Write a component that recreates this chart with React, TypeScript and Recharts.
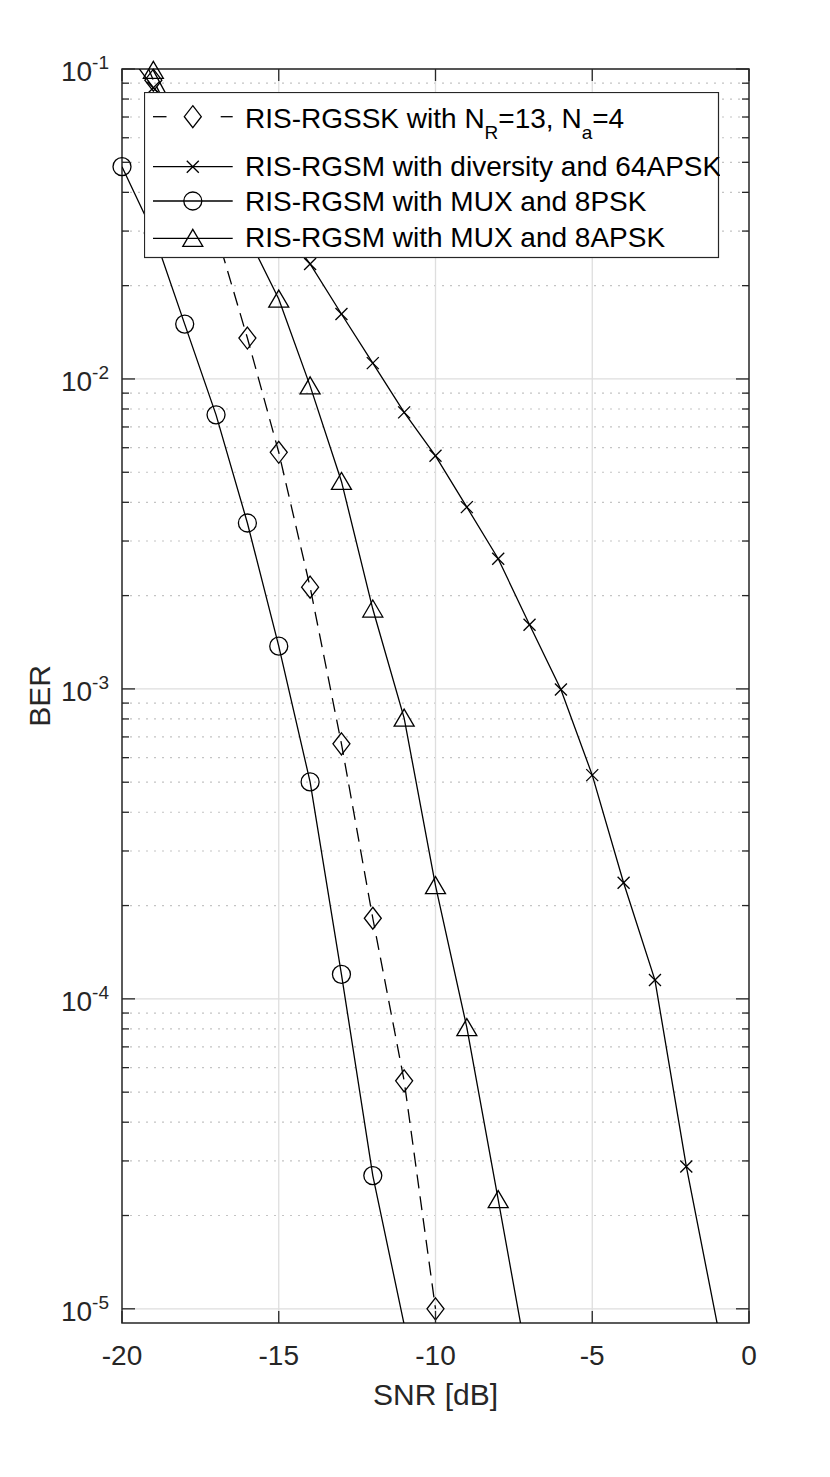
import React from 'react';
import { LineChart, Line, XAxis, YAxis, CartesianGrid, ReferenceDot, ReferenceArea, Legend } from 'recharts';

// ---------- data ----------
const snr = [-20, -19, -18, -17, -16, -15, -14, -13, -12, -11, -10, -9, -8, -7, -6, -5, -4, -3, -2, -1];

const rgssk = [0.16, 0.092, 0.058, 0.0298, 0.01355, 0.0058, 0.00213, 0.000665, 0.000182, 5.44e-5, 1.0e-5,
  null, null, null, null, null, null, null, null, null];
const div64apsk = [0.119, 0.087, 0.0684, 0.0537, 0.0417, 0.032, 0.0235, 0.0162, 0.01125, 0.0078, 0.00565,
  0.00386, 0.00263, 0.00161, 0.000996, 0.000527, 0.000237, 0.000115, 2.88e-5, 8.8e-6];
const mux8psk = [0.0484, 0.0296, 0.01503, 0.00766, 0.00343, 0.001374, 0.000501, 0.00012, 2.69e-5, 8.9e-6,
  null, null, null, null, null, null, null, null, null, null];
const mux8apsk = [0.16, 0.099, 0.064, 0.043, 0.029, 0.0181, 0.0095, 0.00467, 0.00181, 0.000805, 0.000232,
  8.08e-5, 2.25e-5, 6.2e-6, null, null, null, null, null, null];

const xTicks = [-20, -15, -10, -5, 0];
const yMajor = [1e-5, 1e-4, 1e-3, 1e-2, 1e-1];
const yMinorMult = [2, 3, 4, 5, 6, 7, 8, 9];
const yMinor = [1e-5, 1e-4, 1e-3, 1e-2].flatMap((d) => yMinorMult.map((m) => m * d));
const yDomain = [9e-6, 0.1];
const xDomain = [-20, 0];

const legendLabels = [
  'RIS-RGSSK with N_R=13, N_a=4',
  'RIS-RGSM with diversity and 64APSK',
  'RIS-RGSM with MUX and 8PSK',
  'RIS-RGSM with MUX and 8APSK',
];

const data = snr.map((s, i) => ({
  snr: s,
  rgssk: rgssk[i],
  div64apsk: div64apsk[i],
  mux8psk: mux8psk[i],
  mux8apsk: mux8apsk[i],
}));

// ---------- layout / style ----------
const W = 830;
const H = 1477;
const PL = 122;
const PR = 749;
const PT = 69;
const PB = 1323;
const AX = '#262626';
const FONT = "'Liberation Sans', Arial, Helvetica, sans-serif";

type Kind = 'diamond' | 'x' | 'circle' | 'triangle';

const Marker = ({ kind, cx, cy }: { kind: Kind; cx: number; cy: number }) => {
  if (cx == null || cy == null || isNaN(cx) || isNaN(cy)) return <g />;
  const st = { fill: 'none', stroke: '#000', strokeWidth: 1.3 };
  if (kind === 'diamond') {
    return <polygon points={`${cx},${cy - 11} ${cx + 8.5},${cy} ${cx},${cy + 11} ${cx - 8.5},${cy}`} {...st} />;
  }
  if (kind === 'circle') {
    return <circle cx={cx} cy={cy} r={9} {...st} />;
  }
  if (kind === 'triangle') {
    return <polygon points={`${cx},${cy - 9} ${cx + 10},${cy + 8} ${cx - 10},${cy + 8}`} {...st} />;
  }
  return (
    <g {...st}>
      <line x1={cx - 6} y1={cy - 6} x2={cx + 6} y2={cy + 6} />
      <line x1={cx - 6} y1={cy + 6} x2={cx + 6} y2={cy - 6} />
    </g>
  );
};

const series: { key: string; values: (number | null)[]; kind: Kind; dash?: string }[] = [
  { key: 'rgssk', values: rgssk, kind: 'diamond', dash: '14 8' },
  { key: 'div64apsk', values: div64apsk, kind: 'x' },
  { key: 'mux8psk', values: mux8psk, kind: 'circle' },
  { key: 'mux8apsk', values: mux8apsk, kind: 'triangle' },
];

const YTick = (props: any) => {
  const { y, payload } = props;
  const v = payload.value;
  const major = yMajor.includes(v);
  const len = major ? 13 : 7;
  const exp = Math.round(Math.log10(v));
  return (
    <g>
      <line x1={PL} x2={PL + len} y1={y} y2={y} stroke={AX} strokeWidth={1.3} />
      <line x1={PR - len} x2={PR} y1={y} y2={y} stroke={AX} strokeWidth={1.3} />
      {major && (
        <text x={109} y={y + 12} textAnchor="end" fontSize={28} fill={AX} fontFamily={FONT}>
          10
          <tspan dy={-12} fontSize={19}>{String(exp)}</tspan>
        </text>
      )}
    </g>
  );
};

const XTick = (props: any) => {
  const { x, payload } = props;
  return (
    <g>
      <line x1={x} x2={x} y1={PB} y2={PB - 12} stroke={AX} strokeWidth={1.3} />
      <line x1={x} x2={x} y1={PT} y2={PT + 12} stroke={AX} strokeWidth={1.3} />
      <text x={x} y={1365} textAnchor="middle" fontSize={28} fill={AX} fontFamily={FONT}>
        {String(payload.value)}
      </text>
    </g>
  );
};

const LegendBox = () => {
  const rowsLine = [24.7, 74.7, 109, 146.3];
  const rowsBase = [35.7, 83.7, 118.7, 154.7];
  const x0 = 9;
  const x1 = 88.7;
  const mx = 48.8;
  const tx = 101;
  return (
    <svg width={576} height={167} style={{ display: 'block' }}>
      <rect x={0.5} y={0.5} width={574} height={165} fill="#fff" stroke={AX} strokeWidth={1.2} />
      {series.map((s, i) => (
        <g key={s.key}>
          {s.dash ? (
            <g stroke="#000" strokeWidth={1.3}>
              <line x1={x0} x2={x0 + 13.5} y1={rowsLine[i]} y2={rowsLine[i]} />
              <line x1={x1 - 12} x2={x1} y1={rowsLine[i]} y2={rowsLine[i]} />
            </g>
          ) : (
            <line x1={x0} x2={x1} y1={rowsLine[i]} y2={rowsLine[i]} stroke="#000" strokeWidth={1.3} />
          )}
          <Marker kind={s.kind} cx={mx} cy={rowsLine[i]} />
          {i === 0 ? (
            <text x={tx} y={rowsBase[i]} fontSize={28} fill="#000" fontFamily={FONT}>
              RIS-RGSSK with N<tspan dy={11} fontSize={19}>R</tspan>
              <tspan dy={-11}>=13, N</tspan>
              <tspan dy={11} fontSize={19}>a</tspan>
              <tspan dy={-11}>=4</tspan>
            </text>
          ) : (
            <text x={tx} y={rowsBase[i]} fontSize={28} fill="#000" fontFamily={FONT}>
              {legendLabels[i]}
            </text>
          )}
        </g>
      ))}
    </svg>
  );
};

export default function App() {
  return (
    <div style={{ position: 'absolute', left: 0, top: 0, background: '#fff' }}>
      <LineChart width={W} height={H} data={data} margin={{ top: PT, right: W - PR, bottom: 94, left: 0 }}>
        <CartesianGrid horizontalValues={yMinor} vertical={false} stroke="#c4c4c4" strokeDasharray="2 6" strokeWidth={1.2} />
        <CartesianGrid horizontalValues={yMajor} verticalValues={[-15, -10, -5]} stroke="#dedede" strokeWidth={1.3} />
        <XAxis
          dataKey="snr"
          type="number"
          domain={xDomain}
          ticks={xTicks}
          interval={0}
          height={60}
          axisLine={false}
          tickLine={false}
          tick={<XTick />}
          allowDataOverflow
          label={{
            content: () => (
              <text x={(PL + PR) / 2} y={1405} textAnchor="middle" fontSize={30} fill={AX} fontFamily={FONT}>
                SNR [dB]
              </text>
            ),
          }}
        />
        <YAxis
          type="number"
          scale="log"
          domain={yDomain}
          ticks={[...yMajor, ...yMinor]}
          interval={0}
          width={PL}
          axisLine={false}
          tickLine={false}
          tick={<YTick />}
          allowDataOverflow
          label={{
            content: () => (
              <text x={50} y={(PT + PB) / 2} transform={`rotate(-90 50 ${(PT + PB) / 2})`} textAnchor="middle" fontSize={30} fill={AX} fontFamily={FONT}>
                BER
              </text>
            ),
          }}
        />
        {series.map((s) => (
          <Line
            key={s.key}
            dataKey={s.key}
            stroke="#000"
            strokeWidth={1.3}
            strokeDasharray={s.dash}
            dot={false}
            activeDot={false}
            isAnimationActive={false}
          />
        ))}
        {series.map((s) =>
          s.values.map((v, i) =>
            v == null ? null : (
              <ReferenceDot
                key={`${s.key}-${i}`}
                x={snr[i]}
                y={v}
                r={9}
                ifOverflow="discard"
                shape={(p: any) => <Marker kind={s.kind} cx={p.cx} cy={p.cy} />}
              />
            )
          )
        )}
        <ReferenceArea x1={xDomain[0]} x2={xDomain[1]} y1={yDomain[0]} y2={yDomain[1]} fill="none" stroke={AX} strokeWidth={1.5} ifOverflow="visible" />
        <Legend
          verticalAlign="middle"
          align="center"
          layout="horizontal"
          wrapperStyle={{ position: 'absolute', left: 144, top: 92, width: 576, height: 167 }}
          content={<LegendBox />}
        />
      </LineChart>
    </div>
  );
}
